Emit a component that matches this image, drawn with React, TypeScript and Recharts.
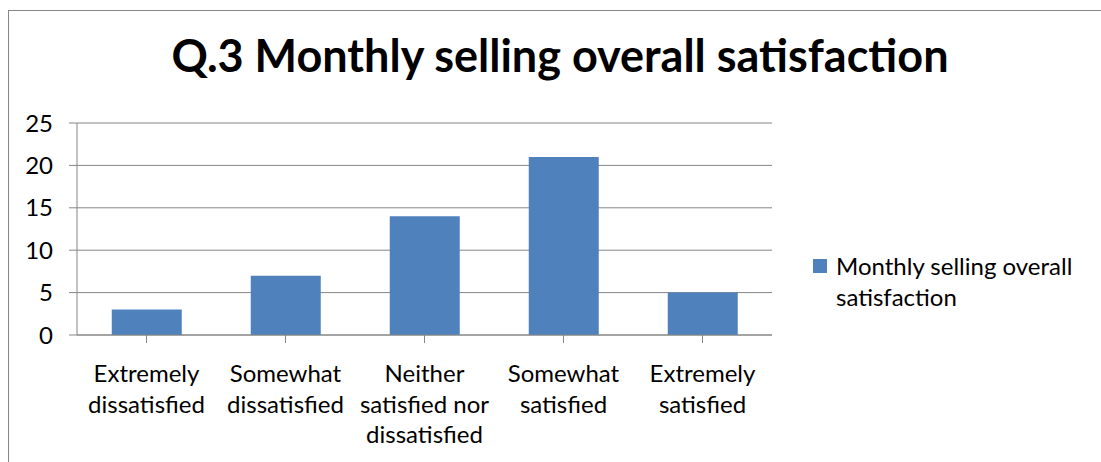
import React from 'react';
import { BarChart, Bar, XAxis, YAxis, CartesianGrid, Legend } from 'recharts';

const categories = [
  'Extremely dissatisfied',
  'Somewhat dissatisfied',
  'Neither satisfied nor dissatisfied',
  'Somewhat satisfied',
  'Extremely satisfied',
];
const tickLines = [
  ['Extremely', 'dissatisfied'],
  ['Somewhat', 'dissatisfied'],
  ['Neither', 'satisfied nor', 'dissatisfied'],
  ['Somewhat', 'satisfied'],
  ['Extremely', 'satisfied'],
];
const values = [3, 7, 14, 21, 5];
const yTicks = [0, 5, 10, 15, 20, 25];
const seriesName = 'Monthly selling overall satisfaction';
const legendLines = ['Monthly selling overall', 'satisfaction'];

const data = categories.map((c, i) => ({ name: c, value: values[i] }));

const FONT = 'Lato, "Open Sans", sans-serif';
const GRAY = '#868686';
const BLUE = '#4F81BD';

function CategoryTick(props: any) {
  const { x, y, index } = props;
  const lines = tickLines[index] || [];
  return (
    <g>
      {lines.map((l, i) => (
        <text key={i} x={x} y={y + 37 + i * 30.5} textAnchor="middle" fill="#000" fontSize={24} fontFamily={FONT}>
          {l}
        </text>
      ))}
    </g>
  );
}

function LegendBox() {
  return (
    <div style={{ fontFamily: FONT, fontSize: 24, color: '#000', position: 'relative', width: 280 }}>
      <div style={{ position: 'absolute', left: 0, top: 0, width: 14, height: 14, background: BLUE }} />
      <div style={{ position: 'absolute', left: 23, top: -9, lineHeight: '31px', whiteSpace: 'nowrap' }}>
        {legendLines.map((l) => (
          <div key={l}>{l}</div>
        ))}
      </div>
    </div>
  );
}

export default function App() {
  // fixed so the open-ended frame can run off the page without scrollbars
  return (
    <div
      style={{
        position: 'fixed',
        left: 8,
        top: 10,
        width: 1093,
        height: 452,
        borderTop: `1px solid ${GRAY}`,
        borderLeft: `1px solid ${GRAY}`,
        background: '#fff',
        overflow: 'hidden',
      }}
    >
      <div
        style={{
          position: 'absolute',
          left: 0,
          top: 17,
          width: 1102,
          textAlign: 'center',
          fontFamily: FONT,
          fontWeight: 700,
          fontSize: 45,
          lineHeight: '54px',
          color: '#000',
          whiteSpace: 'nowrap',
        }}
      >
        Q.3 Monthly selling overall satisfaction
      </div>
      <BarChart
        width={1092}
        height={451}
        data={data}
        margin={{ top: 112, right: 329, bottom: 27, left: 8 }}
        barCategoryGap="25%"
      >
        <CartesianGrid vertical={false} stroke={GRAY} strokeWidth={1} />
        <XAxis
          dataKey="name"
          interval={0}
          height={100}
          tickSize={8}
          tickLine={{ stroke: GRAY }}
          axisLine={{ stroke: GRAY }}
          tick={<CategoryTick />}
        />
        <YAxis
          domain={[0, 25]}
          ticks={yTicks}
          width={60}
          tickSize={8}
          tickMargin={16}
          tickLine={{ stroke: GRAY }}
          axisLine={{ stroke: GRAY }}
          tick={{ fill: '#000', fontSize: 24, fontFamily: FONT }}
        />
        <Legend
          content={() => <LegendBox />}
          wrapperStyle={{ left: 804, top: 248, width: 280 }}
        />
        <Bar dataKey="value" name={seriesName} fill={BLUE} isAnimationActive={false} />
      </BarChart>
    </div>
  );
}
